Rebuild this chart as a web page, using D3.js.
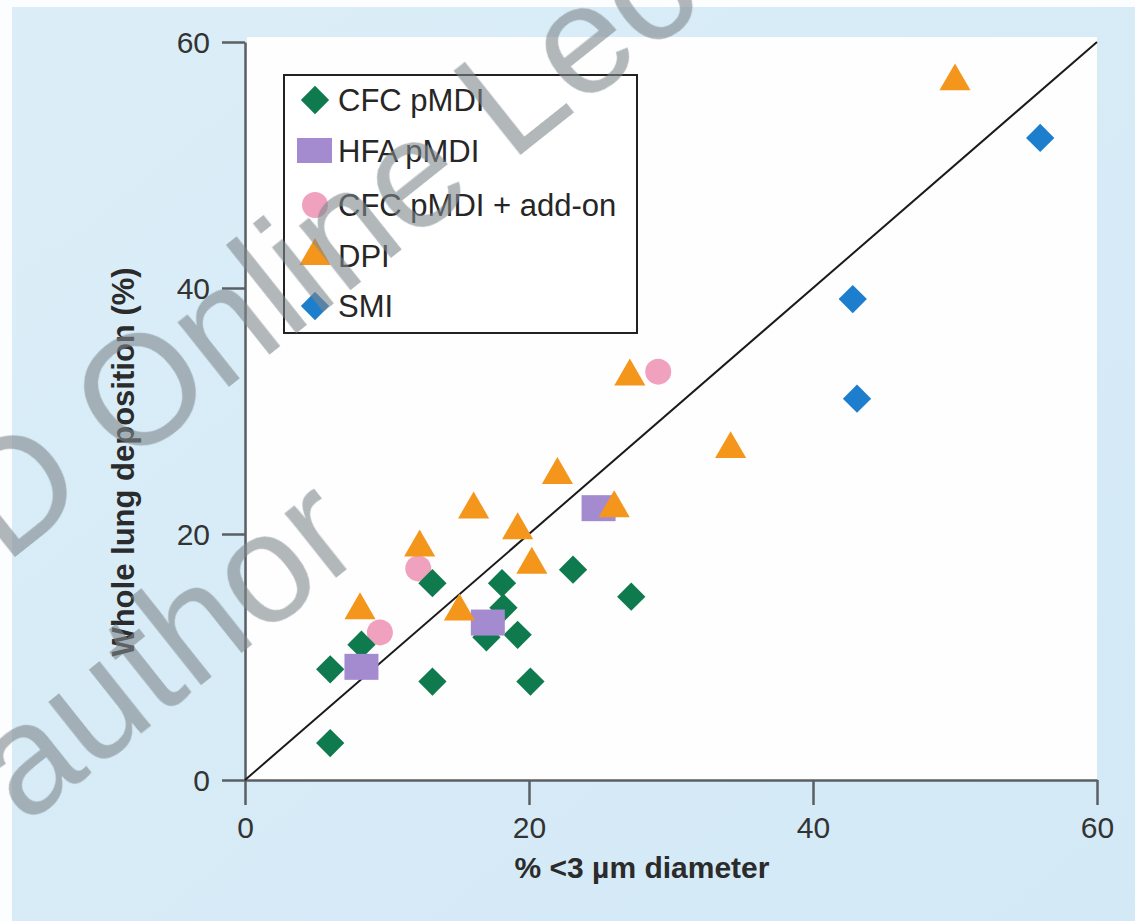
<!DOCTYPE html>
<html>
<head>
<meta charset="utf-8">
<script src="https://cdn.jsdelivr.net/npm/d3@7"></script>
<style>
  body { margin: 0; background: #fff; }
  svg { display: block; font-family: "Liberation Sans", Arial, sans-serif; }
</style>
</head>
<body>
<svg id="chart" width="1135" height="921"></svg>
<script>
// data (x = % <3 um diameter, y = whole lung deposition %)
var cfcX = [6, 6, 8.2, 13.2, 13.2, 18.1, 18.2, 17, 19.2, 20.1, 23.1, 27.2];
var cfcY = [3, 9, 11, 8, 16, 16, 14, 11.6, 11.8, 8, 17.1, 14.9];

var hfaX = [8.2, 17.1, 24.9];
var hfaY = [9.2, 12.8, 22.1];

var addonX = [9.5, 12.2, 29.1];
var addonY = [12, 17.2, 33.2];

var dpiX = [8.1, 12.3, 15.1, 16.1, 19.2, 20.2, 22, 26, 27.1, 34.2, 50];
var dpiY = [13.8, 18.9, 13.7, 22, 20.3, 17.5, 24.8, 22.1, 32.8, 26.9, 56.8];

var smiX = [42.8, 43.1, 56];
var smiY = [39.1, 31, 52.2];

var ticks = [0, 20, 40, 60];
var seriesNames = ["CFC pMDI", "HFA pMDI", "CFC pMDI + add-on", "DPI", "SMI"];

var colors = {
	cfc: "#0e7a4e",
	hfa: "#a48bd0",
	addon: "#f0a1bd",
	dpi: "#f5961c",
	smi: "#1c7ecd"
};

var svg = d3.select("#chart");

var defs = svg.append("defs");
var grad = defs.append("linearGradient").attr("id", "bg")
	.attr("x1", 0).attr("y1", 0).attr("x2", 1).attr("y2", 1);
grad.append("stop").attr("offset", "0%").attr("stop-color", "#dbeef8");
grad.append("stop").attr("offset", "100%").attr("stop-color", "#d3e9f6");

svg.append("rect").attr("width", 1135).attr("height", 921).attr("fill", "#fbfdfe");
svg.append("rect").attr("x", 12).attr("y", 7).attr("width", 1123).attr("height", 914)
	.attr("fill", "url(#bg)");

var x = d3.scaleLinear().domain([0, 60]).range([245, 1097]);
var y = d3.scaleLinear().domain([0, 60]).range([780, 42]);

// white plot panel
svg.append("rect")
	.attr("x", x(0) + 2).attr("y", 37)
	.attr("width", x(60) - x(0) - 2).attr("height", y(0) - 37)
	.attr("fill", "#fefefe");

// axes
var gx = svg.append("g")
	.attr("transform", "translate(0," + y(0) + ")")
	.call(d3.axisBottom(x).tickValues(ticks).tickSize(25).tickSizeOuter(0).tickPadding(12));
var gy = svg.append("g")
	.attr("transform", "translate(" + x(0) + ",0)")
	.call(d3.axisLeft(y).tickValues(ticks).tickSize(23).tickSizeOuter(0).tickPadding(12));

[gx, gy].forEach(function(g) {
	g.selectAll("path, line").attr("stroke", "#5a5f63").attr("stroke-width", 2.5);
	g.selectAll("text").attr("fill", "#333").attr("font-size", 30)
		.attr("font-family", "'Liberation Sans', Arial, sans-serif");
});
gy.selectAll("text").attr("dy", "0.36em");

// axis titles
svg.append("text")
	.attr("x", 642).attr("y", 878)
	.attr("text-anchor", "middle")
	.attr("font-size", 30).attr("font-weight", "bold").attr("fill", "#2b2b2b")
	.text("% <3 µm diameter");

svg.append("text")
	.attr("transform", "translate(134,462) rotate(-90)")
	.attr("text-anchor", "middle")
	.attr("font-size", 31).attr("font-weight", "bold").attr("fill", "#2b2b2b")
	.text("Whole lung deposition (%)");

// line of identity
svg.append("line")
	.attr("x1", x(0)).attr("y1", y(0))
	.attr("x2", x(60)).attr("y2", y(60))
	.attr("stroke", "#1a1a1a").attr("stroke-width", 2);

function zip(xs, ys) {
	return xs.map(function(v, i) { return {x: v, y: ys[i]}; });
}

var diamond = d3.symbol().type(d3.symbolSquare).size(400)();
var triangle = d3.symbol().type(d3.symbolTriangle).size(420)();
var circle = d3.symbol().type(d3.symbolCircle).size(530)();

var plot = svg.append("g");

plot.selectAll(".addon")
	.data(zip(addonX, addonY))
	.enter().append("path")
	.attr("class", "addon")
	.attr("d", circle)
	.attr("fill", colors.addon)
	.attr("transform", function(d) { return "translate(" + x(d.x) + "," + y(d.y) + ")"; });

plot.selectAll(".cfc")
	.data(zip(cfcX, cfcY))
	.enter().append("path")
	.attr("class", "cfc")
	.attr("d", diamond)
	.attr("fill", colors.cfc)
	.attr("transform", function(d) { return "translate(" + x(d.x) + "," + y(d.y) + ") rotate(45)"; });

plot.selectAll(".hfa")
	.data(zip(hfaX, hfaY))
	.enter().append("rect")
	.attr("class", "hfa")
	.attr("x", function(d) { return x(d.x) - 17; })
	.attr("y", function(d) { return y(d.y) - 13; })
	.attr("width", 34).attr("height", 26)
	.attr("fill", colors.hfa);

plot.selectAll(".dpi")
	.data(zip(dpiX, dpiY))
	.enter().append("path")
	.attr("class", "dpi")
	.attr("d", triangle)
	.attr("fill", colors.dpi)
	.attr("transform", function(d) { return "translate(" + x(d.x) + "," + y(d.y) + ")"; });

plot.selectAll(".smi")
	.data(zip(smiX, smiY))
	.enter().append("path")
	.attr("class", "smi")
	.attr("d", diamond)
	.attr("fill", colors.smi)
	.attr("transform", function(d) { return "translate(" + x(d.x) + "," + y(d.y) + ") rotate(45)"; });

// legend
var legend = svg.append("g");
legend.append("rect")
	.attr("x", 284).attr("y", 75).attr("width", 353).attr("height", 258)
	.attr("fill", "#fff").attr("stroke", "#222").attr("stroke-width", 2);

var rowY = [100, 151, 205, 256, 306];
var legendColors = [colors.cfc, colors.hfa, colors.addon, colors.dpi, colors.smi];

seriesNames.forEach(function(name, i) {
	var row = legend.append("g").attr("transform", "translate(315," + rowY[i] + ")");
	if (i === 0 || i === 4) {
		row.append("path").attr("d", diamond).attr("transform", "rotate(45)").attr("fill", legendColors[i]);
	} else if (i === 1) {
		row.append("rect").attr("x", -18).attr("y", -13).attr("width", 35).attr("height", 25).attr("fill", legendColors[i]);
	} else if (i === 2) {
		row.append("path").attr("d", circle).attr("fill", legendColors[i]);
	} else {
		row.append("path").attr("d", triangle).attr("fill", legendColors[i]);
	}
	row.append("text")
		.attr("x", 23).attr("dy", "0.36em")
		.attr("font-size", 31).attr("fill", "#262626")
		.text(name);
});

// watermark overlay
var wm = svg.append("g").attr("fill", "#7f878d").attr("opacity", 0.6)
	.attr("font-size", 155).attr("pointer-events", "none");
wm.append("text").attr("transform", "translate(5,565) rotate(-38.5)").text("D Online Lecture");
wm.append("text").attr("transform", "translate(24,826) rotate(-38.5)").text("author");
</script>
</body>
</html>
